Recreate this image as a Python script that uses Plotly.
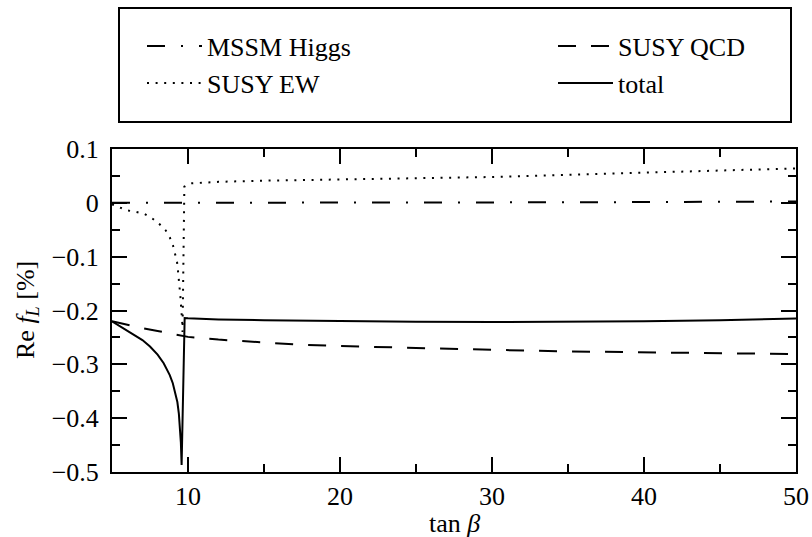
import plotly.graph_objects as go

# ---------------- data ----------------
tanb_higgs = [5, 10, 15, 20, 25, 30, 35, 40, 45, 50]
re_higgs = [0.0, 0.0, 0.0, 0.0, 0.0, 0.0005, 0.001, 0.0015, 0.002, 0.0025]

tanb_qcd = [5, 6, 7, 8, 9, 10, 12, 15, 17, 20, 25, 30, 35, 40, 45, 50]
re_qcd = [-0.220, -0.227, -0.233, -0.238, -0.244, -0.249, -0.254, -0.260,
          -0.263, -0.266, -0.270, -0.273, -0.276, -0.278, -0.280, -0.281]

tanb_ew = [5, 5.5, 6, 6.6, 7.15, 7.7, 8.14, 8.53, 8.8, 9.01, 9.17, 9.28, 9.34,
           9.41, 9.45, 9.5, 9.54, 9.59, 9.62, 9.64, 9.76, 10.1, 11, 12, 14.7,
           20, 25, 30, 35, 40, 45, 50]
re_ew = [-0.003, -0.009, -0.014, -0.017, -0.021, -0.030, -0.040, -0.051, -0.064,
         -0.079, -0.095, -0.110, -0.126, -0.142, -0.158, -0.174, -0.190, -0.206,
         -0.222, -0.240, 0.030, 0.036, 0.038, 0.039, 0.041, 0.043, 0.045, 0.048,
         0.052, 0.056, 0.060, 0.064]

tanb_tot = [5, 5.5, 6, 6.5, 7, 7.5, 8, 8.4, 8.8, 9.0, 9.2, 9.3, 9.4, 9.47, 9.53,
            9.58, 9.78, 10, 11, 12, 15, 20, 25, 30, 35, 40, 45, 50]
re_tot = [-0.220, -0.229, -0.238, -0.246, -0.255, -0.267, -0.282, -0.298, -0.320,
          -0.335, -0.356, -0.370, -0.392, -0.415, -0.445, -0.487, -0.2140, -0.2145,
          -0.2155, -0.2165, -0.2180, -0.2200, -0.2210, -0.2215, -0.2210, -0.2200,
          -0.2180, -0.2150]

series_names = ["MSSM Higgs", "SUSY QCD", "SUSY EW", "total"]

x_major = [10, 20, 30, 40, 50]
x_major_text = ["10", "20", "30", "40", "50"]
x_minor = [5, 15, 25, 35, 45]
y_major = [-0.5, -0.4, -0.3, -0.2, -0.1, 0.0, 0.1]
y_major_text = ["\u22120.5", "\u22120.4", "\u22120.3", "\u22120.2", "\u22120.1", "0", "0.1"]
y_minor = [-0.45, -0.35, -0.25, -0.15, -0.05, 0.05]

x_title = "tan <i>\u03b2</i>"
y_title = "Re <i>f</i><sub><i>L</i></sub> [%]"

# ---------------- figure ----------------
FONT = "Liberation Serif"
FS = 26

W, H = 812, 537
ML, MT = 112, 149
PW, PH = 684, 323
MR = W - ML - PW
MB = H - MT - PH


def px_x(page_x):
    return (page_x - ML) / PW


def px_y(page_y):
    return (MT + PH - page_y) / PH


fig = go.Figure()
fig.add_trace(go.Scatter(x=tanb_higgs, y=re_higgs, mode="lines", name=series_names[0],
                         line=dict(color="black", width=2, dash="18px,16px,2px,16px"),
                         legend="legend"))
fig.add_trace(go.Scatter(x=tanb_qcd, y=re_qcd, mode="lines", name=series_names[1],
                         line=dict(color="black", width=2, dash="18px,15px"),
                         legend="legend2"))
fig.add_trace(go.Scatter(x=tanb_ew, y=re_ew, mode="lines", name=series_names[2],
                         line=dict(color="black", width=2, dash="2px,6.6px"),
                         legend="legend3"))
fig.add_trace(go.Scatter(x=tanb_tot, y=re_tot, mode="lines", name=series_names[3],
                         line=dict(color="black", width=2),
                         legend="legend4"))

leg_common = dict(font=dict(family=FONT, size=FS, color="black"), bgcolor="rgba(0,0,0,0)",
                  borderwidth=0, itemwidth=55, yanchor="middle", xanchor="left",
                  itemclick=False, itemdoubleclick=False)
col1_x, col2_x = px_x(142), px_x(553)
row1_y, row2_y = px_y(46), px_y(83)

fig.update_layout(
    width=W, height=H,
    margin=dict(l=ML, r=MR, t=MT, b=MB, pad=0),
    paper_bgcolor="white", plot_bgcolor="white",
    font=dict(family=FONT, size=FS, color="black"),
    showlegend=True,
    legend=dict(x=col1_x, y=row1_y, **leg_common),
    legend2=dict(x=col2_x, y=row1_y, **leg_common),
    legend3=dict(x=col1_x, y=row2_y, **leg_common),
    legend4=dict(x=col2_x, y=row2_y, **leg_common),
    shapes=[dict(type="rect", xref="paper", yref="paper",
                 x0=px_x(119), x1=px_x(791), y0=px_y(122), y1=px_y(8),
                 line=dict(color="black", width=2), fillcolor="rgba(0,0,0,0)")],
    annotations=[
        dict(text=x_title, xref="paper", yref="paper", x=px_x(454), y=px_y(523),
             xanchor="center", yanchor="middle", showarrow=False,
             font=dict(family=FONT, size=FS, color="black")),
        dict(text=y_title, xref="paper", yref="paper", x=px_x(27), y=px_y(310),
             xanchor="center", yanchor="middle", showarrow=False, textangle=-90,
             font=dict(family=FONT, size=FS, color="black")),
    ],
)

fig.update_xaxes(
    range=[5, 50], showgrid=False, zeroline=False, automargin=False,
    showline=True, linecolor="black", linewidth=2, mirror="ticks",
    ticks="inside", ticklen=15, tickwidth=1.5, tickcolor="black",
    tickvals=x_major, ticktext=x_major_text,
    tickfont=dict(family=FONT, size=FS, color="black"),
    ticklabelstandoff=0,
    minor=dict(tickvals=x_minor, ticks="inside", ticklen=8,
               tickwidth=1.5, tickcolor="black", showgrid=False),
)
fig.update_yaxes(
    range=[-0.5, 0.1], showgrid=False, zeroline=False, automargin=False,
    showline=True, linecolor="black", linewidth=2, mirror="ticks",
    ticks="inside", ticklen=15, tickwidth=1.5, tickcolor="black",
    tickvals=y_major, ticktext=y_major_text,
    tickfont=dict(family=FONT, size=FS, color="black"),
    ticklabelstandoff=6,
    minor=dict(tickvals=y_minor, ticks="inside",
               ticklen=8, tickwidth=1.5, tickcolor="black", showgrid=False),
)

fig.write_html(
    "out.html",
    config={"displayModeBar": False},
    post_script="document.body.style.margin='0';document.body.style.overflow='hidden';",
)
